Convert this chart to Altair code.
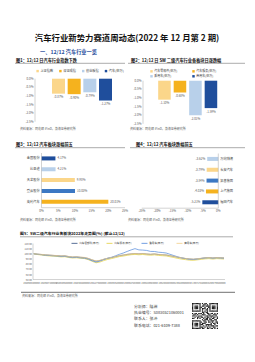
import altair as alt
import pandas as pd

FONT = "Noto Sans CJK SC"

# ---------------- text content ----------------
page_title = "汽车行业新势力赛道周动态(2022 年 12 月第 2 期)"
section_title = "一、12/12 汽车行业一览"
fig1_title = "图1：12/12 日汽车行业指数下跌"
fig2_title = "图2：12/12 日 SW 二级汽车行业各板块日涨跌幅"
fig3_title = "图3：12/12 汽车板块涨幅前五"
fig4_title = "图4：12/12 汽车板块跌幅前五"
fig5_title = "图5：SW二级汽车行业各板块2022年走势图(%) (截止12/12)"
source_text = "资料来源：同花顺 iFinD，渤海证券研究所"
analyst_lines = ["分析师：陆洲", "执业编号：S0830521060001", "联系人：张冲", "联系电话：021-6109-7388"]

# ---------------- data ----------------
idx_names = ["上证指数", "深证成指", "创业板指", "汽车(申万)"]
idx_change = [-0.87, -0.90, -0.79, -1.27]

sub_names = ["汽车零部件(申万)", "汽车服务(申万)", "乘用车(申万)", "商用车(申万)"]
sub_change = [-1.10, -0.68, -2.01, -1.59]

pct_ticks = [0, -0.5, -1.0, -1.5, -2.0, -2.5]

up_names = ["金固股份", "比亚迪", "天龙股份", "登云股份", "英利汽车"]
up_change = [4.17, 4.21, 9.98, 10.03, 20.01]
up_ticks = [0, 5, 10, 15, 20, 25]

down_names = ["万向钱潮", "长安汽车", "拓普集团", "上汽集团", "福田汽车"]
down_change = [-3.62, -3.79, -3.84, -4.03, -5.21]
down_ticks = [-25, -20, -15, -10, -5, 0]

line_dates = [d.strftime("%Y-%m-%d") for d in pd.date_range("2022-01-04", periods=49, freq="7D")] + ["2022-12-12"]
series_names = ["汽车零部件(申万)", "汽车服务(申万)", "乘用车(申万)", "商用车(申万)"]
s_parts = [100, 99.2, 98.6, 97.8, 97.3, 96.8, 96.4, 95.6, 95.9, 94.5, 93.6, 94.0, 93.1, 92.6, 90.8,
           88.0, 85.6, 86.9, 89.2, 91.0, 92.6, 94.5, 96.3, 97.4, 98.8, 99.7, 100.3, 99.8, 100.4, 99.5,
           98.9, 99.6, 98.6, 98.1, 97.6, 96.2, 94.8, 93.2, 91.8, 90.7, 89.8, 89.3, 90.1, 91.0, 92.0,
           92.6, 91.7, 92.5, 92.1, 91.8]
s_service = [100, 98.5, 97.6, 96.6, 95.8, 95.4, 94.8, 93.9, 94.3, 92.7, 91.8, 92.2, 91.2, 90.7, 88.6,
             85.4, 82.5, 84.0, 86.8, 89.0, 90.7, 92.6, 94.6, 95.6, 97.0, 98.2, 98.8, 98.1, 98.7, 97.8,
             97.2, 97.9, 96.8, 96.3, 95.8, 94.2, 92.7, 91.0, 89.6, 88.6, 87.6, 87.2, 88.2, 89.1, 90.1,
             90.6, 89.7, 90.6, 90.2, 89.8]
s_passenger = [100, 99.0, 98.2, 97.1, 96.7, 96.0, 95.7, 94.8, 95.2, 93.6, 92.6, 93.2, 92.1, 91.5, 89.6,
               86.4, 84.0, 85.8, 88.9, 91.6, 93.3, 96.1, 99.0, 101.5, 104.6, 107.5, 110.0, 107.6, 107.2,
               106.5, 104.6, 104.5, 103.1, 102.5, 101.5, 99.0, 96.5, 94.0, 92.1, 90.6, 89.3, 88.8, 89.8,
               90.9, 91.9, 92.4, 91.4, 92.3, 91.8, 91.4]
s_commercial = [100, 99.4, 98.9, 98.0, 97.6, 97.0, 96.6, 95.9, 96.1, 94.8, 93.9, 94.3, 93.5, 93.0, 91.2,
                88.4, 86.2, 87.4, 89.6, 91.4, 93.0, 94.9, 96.6, 97.7, 99.0, 99.9, 100.5, 100.0, 100.6,
                99.8, 99.2, 99.8, 98.9, 98.4, 97.9, 96.5, 95.0, 93.5, 92.1, 91.0, 90.1, 89.6, 90.4, 91.3,
                92.2, 92.8, 91.9, 92.7, 92.3, 92.0]
line_y_ticks = [50, 60, 70, 80, 90, 100, 110, 120]
line_x_ticks = ["2021-12-31", "2022-01-31", "2022-02-28", "2022-03-31", "2022-04-30", "2022-05-31",
                "2022-06-30", "2022-07-31", "2022-08-31", "2022-09-30", "2022-10-31", "2022-11-30"]

qr_rows = [
    "111111101011001111111",
    "100000100110101000001",
    "101110101101111011101",
    "101110110010011011101",
    "101110101110101011101",
    "100000101001101000001",
    "111111101010101111111",
    "000000001101100000000",
    "101101110100110110101",
    "011010001110011001110",
    "110101110001101110010",
    "001011011010110101101",
    "110010100101101011001",
    "000000001011101100110",
    "111111100110010111010",
    "100000110011011010011",
    "101110101110000101101",
    "101110111001111100100",
    "101110100101010111011",
    "100000111010101001100",
    "111111101100110110101",
]

# ---------------- styles ----------------
c_dark, c_lblue, c_lyel, c_mblue, c_orng = "#1F4E9C", "#B8D0EA", "#FBD68A", "#3C78C3", "#F5B21E"
c_idx = [c_lyel, c_orng, c_lblue, c_dark]
c_up = [c_dark, c_lblue, c_lyel, c_mblue, c_orng]
c_down = [c_lblue, c_lyel, c_mblue, c_orng, c_dark]
c_lines = ["#2E4A7E", "#E3CF3C", "#4F86DA", "#F3CE86"]
AX_COLOR = "#a6a6a6"
LAB_COLOR = "#595959"


def text_layer(s, x, y, size, color="#333333", weight="normal", align="left"):
    return alt.Chart(alt.Data(values=[{"t": s}])).mark_text(
        font=FONT, fontSize=size, color=color, fontWeight=weight,
        align=align, baseline="middle").encode(
        x=alt.value(x), y=alt.value(y), text=alt.Text("t:N"))


def rule_layer(x1, x2, y, color="#7f7f7f", width=0.5):
    return alt.Chart(alt.Data(values=[{"t": 0}])).mark_rule(
        color=color, strokeWidth=width).encode(
        x=alt.value(x1), x2=alt.value(x2), y=alt.value(y))


def lg(**kw):
    base = dict(title=None, orient="none", direction="horizontal", labelFont=FONT,
                labelFontSize=3.2, labelColor="#404040", symbolType="square", symbolSize=6,
                symbolStrokeWidth=0, labelOffset=1.2, padding=0, rowPadding=1.2)
    base.update(kw)
    return alt.Legend(**base)


lab_style = dict(font=FONT, fontSize=3, color=LAB_COLOR)


def pct(v, nd):
    return f"{v:.{nd}f}%"


# ---------- helper: vertical bar panel (figs 1 & 2) ----------
def column_panel(names, values, colors, xr, pin, pout, yr, axis_x, legend):
    df = pd.DataFrame({"name": names, "chg": values, "lab": [pct(v, 2) for v in values]})
    xs = alt.Scale(domain=names, range=xr, paddingInner=pin, paddingOuter=pout)
    ys = alt.Scale(domain=[-2.5, 0], range=yr, nice=False)
    x = alt.X("name:N", sort=names, axis=None, scale=xs)
    bars = alt.Chart(df).mark_bar().encode(
        x=x, y=alt.Y("chg:Q", scale=ys, axis=None),
        color=alt.Color("name:N", sort=names, scale=alt.Scale(domain=names, range=colors), legend=legend))
    vlabels = alt.Chart(df).mark_text(baseline="top", dy=2.5, **lab_style).encode(
        x=x, y=alt.Y("chg:Q", scale=ys, axis=None), text="lab:N")
    tdf = pd.DataFrame({"v": pct_ticks, "t": [pct(v, 1) for v in pct_ticks]})
    ticks = alt.Chart(tdf).mark_text(align="right", baseline="middle", **lab_style).encode(
        y=alt.Y("v:Q", scale=ys, axis=None), x=alt.value(axis_x - 1.6), text="t:N")
    dom = alt.Chart(pd.DataFrame({"a": [pct_ticks[0]], "b": [pct_ticks[-1]]})).mark_rule(
        color=AX_COLOR, strokeWidth=0.5).encode(
        y=alt.Y("a:Q", scale=ys, axis=None), y2="b:Q", x=alt.value(axis_x))
    return alt.layer(bars, vlabels, ticks, dom)


fig1 = column_panel(idx_names, idx_change, c_idx, [36.3, 127.7], 0.17, 1, [121.7, 78.7], 35,
                    lg(legendX=36, legendY=69.4, columns=4, columnPadding=4.8))
fig2 = column_panel(sub_names, sub_change, c_idx, [143, 232.4], 0.19, 0.98, [123.8, 80.7], 143,
                    lg(legendX=150, legendY=69.6, columns=2, columnPadding=14, labelFontSize=3))


# ---------- helper: horizontal bar panel (figs 3 & 4) ----------
def bar_panel(names, values, colors, ticks, xr, yr, name_x, name_align, val_align, val_dx):
    df = pd.DataFrame({"name": names, "chg": values, "lab": [pct(v, 2) for v in values]})
    ys = alt.Scale(domain=names, range=yr, paddingInner=0.63, paddingOuter=0.315)
    xs = alt.Scale(domain=[ticks[0], ticks[-1]], range=xr, nice=False)
    y = alt.Y("name:N", sort=names, scale=ys, axis=None)
    bars = alt.Chart(df).mark_bar().encode(
        y=y, x=alt.X("chg:Q", scale=xs, axis=None),
        color=alt.Color("name:N", sort=names, scale=alt.Scale(domain=names, range=colors), legend=None))
    vlabels = alt.Chart(df).mark_text(align=val_align, baseline="middle", dx=val_dx, **lab_style).encode(
        y=y, x=alt.X("chg:Q", scale=xs, axis=None), text="lab:N")
    nlabels = alt.Chart(df).mark_text(align=name_align, baseline="middle", font=FONT, fontSize=3.2,
                                      color="#404040").encode(
        y=y, x=alt.value(name_x), text="name:N")
    tdf = pd.DataFrame({"v": ticks, "t": [f"{v}%" for v in ticks]})
    tlabels = alt.Chart(tdf).mark_text(align="center", baseline="middle", **lab_style).encode(
        x=alt.X("v:Q", scale=xs, axis=None), y=alt.value(yr[1] + 3.4), text="t:N")
    hdom = alt.Chart(pd.DataFrame({"a": [ticks[0]], "b": [ticks[-1]]})).mark_rule(
        color=AX_COLOR, strokeWidth=0.5).encode(
        x=alt.X("a:Q", scale=xs, axis=None), x2="b:Q", y=alt.value(yr[1] + 0.5))
    vdom = alt.Chart(pd.DataFrame({"a": [0]})).mark_rule(color=AX_COLOR, strokeWidth=0.5).encode(
        x=alt.X("a:Q", scale=xs, axis=None), y=alt.value(yr[0]), y2=alt.value(yr[1] + 0.5))
    return alt.layer(bars, vlabels, nlabels, tlabels, hdom, vdom)


fig3 = bar_panel(up_names, up_change, c_up, up_ticks, [41.5, 125], [153, 207.2],
                 39.6, "right", "left", 2)
fig4 = bar_panel(down_names, down_change, c_down, down_ticks, [141.7, 218.3], [153.5, 207.7],
                 220.3, "left", "right", -2)

# ---------------- figure 5 ----------------
rows = []
for name, vals in zip(series_names, [s_parts, s_service, s_passenger, s_commercial]):
    for d, v in zip(line_dates, vals):
        rows.append({"date": d, "series": name, "val": v})
df5 = pd.DataFrame(rows)
x5s = alt.Scale(domain=[alt.DateTime(year=2021, month=12, date=31),
                        alt.DateTime(year=2022, month=12, date=12)], range=[31.5, 224])
y5s = alt.Scale(domain=[50, 120], range=[279.5, 243.5], nice=False, zero=False)
lines5 = alt.Chart(df5).mark_line(strokeWidth=0.7).encode(
    x=alt.X("date:T", scale=x5s, axis=None),
    y=alt.Y("val:Q", scale=y5s, axis=None),
    color=alt.Color("series:N", sort=series_names,
                    scale=alt.Scale(domain=series_names, range=c_lines),
                    legend=lg(legendX=71, legendY=239.4, columns=4, columnPadding=4, gridAlign="all",
                              labelFontSize=2.6, symbolType="stroke", symbolSize=36,
                              symbolStrokeWidth=0.8)),
    detail="series:N")
y5lab = alt.Chart(pd.DataFrame({"v": line_y_ticks, "t": [f"{v:.2f}" for v in line_y_ticks]})).mark_text(
    align="right", baseline="middle", font=FONT, fontSize=2.4, color=LAB_COLOR).encode(
    y=alt.Y("v:Q", scale=y5s, axis=None), x=alt.value(31.8), text="t:N")
x5lab = alt.Chart(pd.DataFrame({"d": line_x_ticks})).mark_text(
    align="center", baseline="middle", font=FONT, fontSize=2.3, color=LAB_COLOR).encode(
    x=alt.X("d:T", scale=x5s, axis=None), y=alt.value(282.4), text="d:N")
y5dom = alt.Chart(pd.DataFrame({"a": [line_y_ticks[0]], "b": [line_y_ticks[-1]]})).mark_rule(
    color=AX_COLOR, strokeWidth=0.5).encode(
    y=alt.Y("a:Q", scale=y5s, axis=None), y2="b:Q", x=alt.value(33))
x5dom = alt.Chart(pd.DataFrame({"a": [line_y_ticks[0]]})).mark_rule(
    color=AX_COLOR, strokeWidth=0.5).encode(
    y=alt.Y("a:Q", scale=y5s, axis=None), x=alt.value(33), x2=alt.value(225))
fig5 = alt.layer(lines5, y5lab, x5lab, y5dom, x5dom)

# ---------------- QR code ----------------
qr_cells = [{"r": i, "c": j} for i, row in enumerate(qr_rows) for j, ch in enumerate(row) if ch == "1"]
qr = alt.Chart(pd.DataFrame(qr_cells)).mark_rect(color="#1a1a1a").encode(
    x=alt.X("c:O", scale=alt.Scale(domain=list(range(21)), range=[192, 218], paddingInner=0, paddingOuter=0), axis=None),
    y=alt.Y("r:O", scale=alt.Scale(domain=list(range(21)), range=[303, 329], paddingInner=0, paddingOuter=0), axis=None))

# ---------------- page texts and rules ----------------
page = [
    text_layer(page_title, 127, 38, 8.4, color="#111111", weight="bold", align="center"),
    text_layer(section_title, 40, 51.7, 5.2, color="#1F4E9C", weight="bold"),
    text_layer(fig1_title, 16, 60.8, 4.2, color="#111111", weight="bold"),
    text_layer(fig2_title, 131, 60.8, 4.2, color="#111111", weight="bold"),
    rule_layer(15, 125, 63.3, color="#595959"),
    rule_layer(128, 245, 63.3, color="#595959"),
    text_layer(source_text, 20, 129, 3.0, color="#595959"),
    text_layer(source_text, 130, 129, 3.0, color="#595959"),
    text_layer(fig3_title, 16, 144.8, 4.2, color="#111111", weight="bold"),
    text_layer(fig4_title, 136, 144.8, 4.2, color="#111111", weight="bold"),
    rule_layer(15, 125, 147.7, color="#595959"),
    rule_layer(130, 245, 147.7, color="#595959"),
    text_layer(source_text, 20, 220, 3.0, color="#595959"),
    text_layer(source_text, 128, 220, 3.0, color="#595959"),
    text_layer(fig5_title, 20, 234, 3.9, color="#111111", weight="bold"),
    rule_layer(20, 233, 236.8, color="#595959"),
    rule_layer(21, 235, 292.3, color="#333333", width=0.7),
    text_layer(source_text, 22, 295.5, 3.0, color="#595959"),
]
for i, line in enumerate(analyst_lines):
    page.append(text_layer(line, 134, [306.7, 312.7, 319.3, 326][i], 3.9, color="#333333"))

chart = alt.layer(*page, fig1, fig2, fig3, fig4, fig5, qr).resolve_scale(
    x="independent", y="independent", color="independent"
).properties(
    width=255, height=362, padding=0, background="white",
    autosize=alt.AutoSizeParams(type="none")
).configure_view(stroke=None)

chart.save("out.html", embed_options={"renderer": "svg", "actions": False})
